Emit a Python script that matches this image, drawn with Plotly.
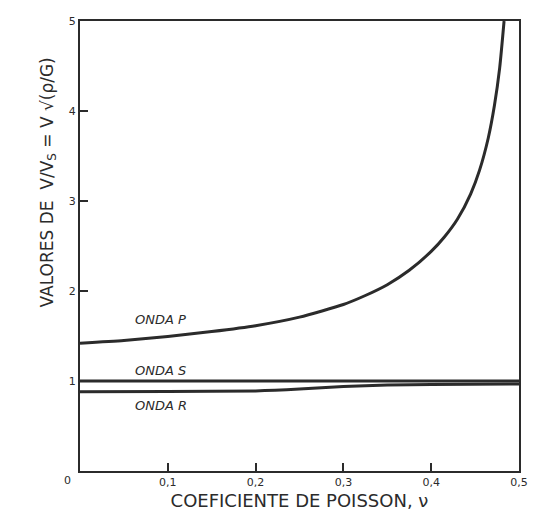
import plotly.graph_objects as go

# Poisson's ratio values and wave-speed ratios
nu_p = [0.0, 0.05, 0.10, 0.15, 0.20, 0.25, 0.30, 0.325, 0.35, 0.375, 0.40,
        0.415, 0.43, 0.445, 0.455, 0.465, 0.472, 0.478, 0.483]
onda_p = [1.42, 1.45, 1.495, 1.55, 1.615, 1.71, 1.85, 1.95, 2.07, 2.23, 2.44,
          2.60, 2.80, 3.08, 3.34, 3.70, 4.06, 4.48, 5.0]

nu_s = [0.0, 0.1, 0.2, 0.3, 0.4, 0.5]
onda_s = [1.0, 1.0, 1.0, 1.0, 1.0, 1.0]

nu_r = [0.0, 0.1, 0.2, 0.25, 0.3, 0.35, 0.4, 0.5]
onda_r = [0.88, 0.883, 0.89, 0.91, 0.94, 0.955, 0.962, 0.968]

x_ticks = [0.1, 0.2, 0.3, 0.4, 0.5]
x_tick_text = ["0,1", "0,2", "0,3", "0,4", "0,5"]
y_ticks = [1, 2, 3, 4, 5]
y_tick_text = ["1", "2", "3", "4", "5"]

curve_labels = ["ONDA P", "ONDA S", "ONDA R"]
label_x = [0.092, 0.092, 0.092]
label_y = [1.68, 1.12, 0.73]

ink = "#2b2b2b"

fig = go.Figure()
for xs, ys in [(nu_p, onda_p), (nu_s, onda_s), (nu_r, onda_r)]:
    fig.add_trace(go.Scatter(x=xs, y=ys, mode="lines",
                             line=dict(color=ink, width=3, shape="spline", smoothing=0.6),
                             showlegend=False, hoverinfo="skip"))

for t, lx, ly in zip(curve_labels, label_x, label_y):
    fig.add_annotation(x=lx, y=ly, text="<i>" + t + "</i>", showarrow=False,
                       font=dict(family="DejaVu Sans", size=13, color=ink))

# shared origin label
fig.add_annotation(x=0, y=0, text="0", showarrow=False, xshift=-13, yshift=-9,
                   font=dict(family="DejaVu Sans", size=11, color=ink))

# y-axis title
fig.add_annotation(xref="paper", yref="paper", x=0, y=0.64, xshift=-46,
                   text="VALORES DE  V/V<sub>S</sub> = V √(ρ/G)", textangle=-90, showarrow=False,
                   font=dict(family="DejaVu Sans", size=17, color=ink))

fig.update_layout(
    width=537, height=517,
    margin=dict(l=80, r=9, t=21, b=44),
    paper_bgcolor="white", plot_bgcolor="white",
    xaxis=dict(range=[0, 0.5], tickvals=x_ticks, ticktext=x_tick_text, ticks="inside", ticklen=8,
               tickwidth=2, tickcolor=ink, showgrid=False, zeroline=False, showline=True,
               linecolor=ink, linewidth=2, mirror=True,
               tickfont=dict(family="DejaVu Sans", size=11, color=ink),
               title=dict(text="COEFICIENTE DE POISSON, ν", standoff=6,
                          font=dict(family="DejaVu Sans", size=18, color=ink))),
    yaxis=dict(range=[0, 5], tickvals=y_ticks, ticktext=y_tick_text, ticks="inside", ticklen=8,
               tickwidth=2, tickcolor=ink, showgrid=False, zeroline=False, showline=True,
               linecolor=ink, linewidth=2, mirror=True,
               tickfont=dict(family="DejaVu Sans", size=11, color=ink)),
)

fig.write_html("out.html")
